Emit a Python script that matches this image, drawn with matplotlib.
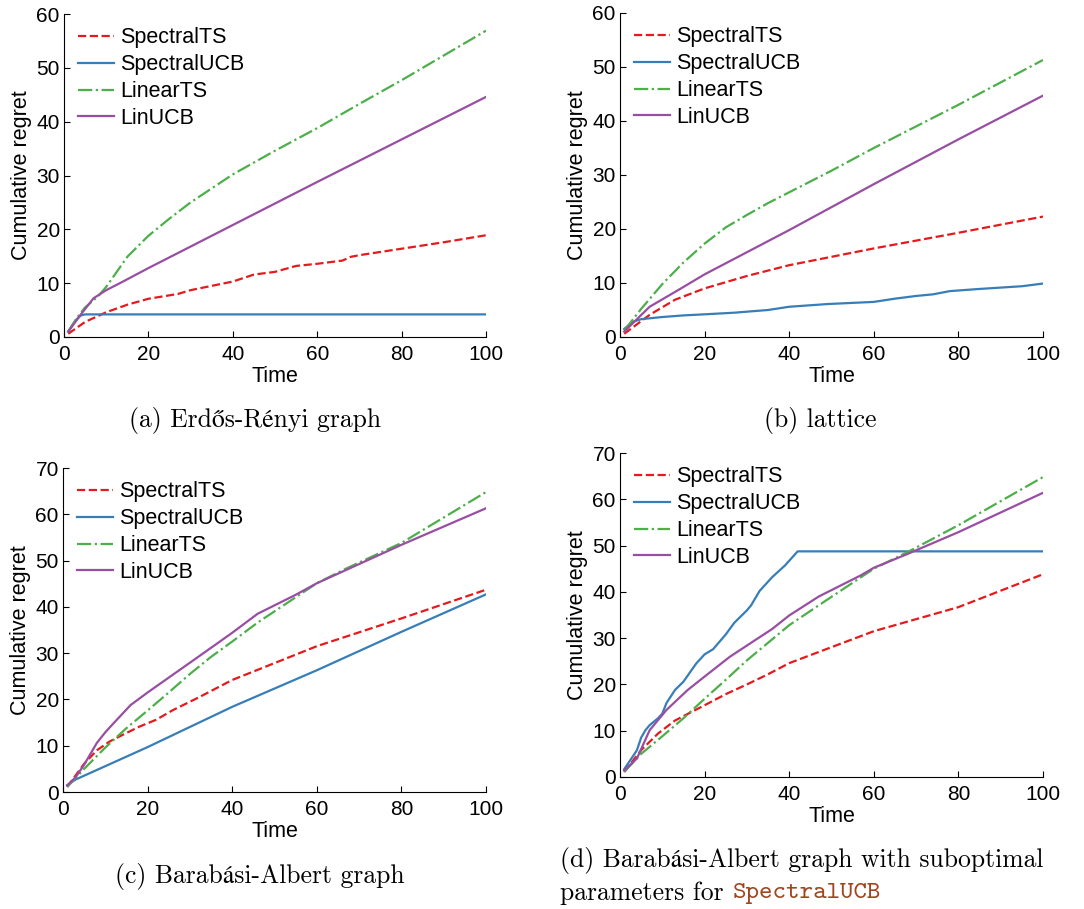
import matplotlib
matplotlib.use("Agg")
import matplotlib.pyplot as plt

# ---- data (time, cumulative regret) ----
# (a) Erdos-Renyi graph
a_ts_t = [1, 5, 10, 15, 20, 27, 30, 40, 45, 50, 55, 60, 66, 68, 70, 80, 90, 100]
a_ts_y = [0.6, 2.8, 4.6, 6.0, 7.1, 8.0, 8.7, 10.3, 11.6, 12.1, 13.2, 13.6, 14.2, 14.9, 15.2, 16.4, 17.6, 18.9]
a_ucb_t = [1, 2, 3, 4, 5, 100]
a_ucb_y = [1.0, 2.2, 3.3, 4.0, 4.2, 4.2]
a_lts_t = [1, 3, 5, 8, 10, 15, 20, 25, 30, 40, 50, 60, 70, 80, 90, 100]
a_lts_y = [1.0, 3.5, 5.5, 7.5, 9.3, 14.9, 18.8, 22.0, 25.0, 30.2, 34.6, 38.8, 43.3, 47.7, 52.3, 56.9]
a_lin_t = [1, 4, 7, 10, 13, 20, 40, 60, 80, 100]
a_lin_y = [1.0, 4.2, 7.2, 8.7, 9.9, 12.8, 20.8, 28.8, 36.7, 44.6]

# (b) lattice
b_ts_t = [1, 7, 13, 20, 30, 40, 60, 80, 100]
b_ts_y = [0.6, 4.1, 6.9, 9.0, 11.3, 13.3, 16.4, 19.3, 22.3]
b_ucb_t = [1, 3, 5, 10, 15, 20, 27, 35, 40, 49, 60, 65, 70, 74, 78, 85, 95, 100]
b_ucb_y = [1.5, 2.8, 3.3, 3.7, 4.0, 4.2, 4.5, 5.0, 5.6, 6.1, 6.5, 7.1, 7.6, 7.9, 8.5, 8.9, 9.4, 9.9]
b_lts_t = [1, 5, 10, 15, 20, 25, 30, 35, 40, 50, 60, 80, 100]
b_lts_y = [1.2, 5.2, 9.8, 13.8, 17.3, 20.3, 22.6, 24.8, 26.8, 30.8, 35.0, 43.0, 51.3]
b_lin_t = [1, 7, 14, 20, 30, 40, 60, 80, 100]
b_lin_y = [1.0, 5.6, 8.8, 11.6, 15.7, 19.8, 28.3, 36.6, 44.7]

# (c) Barabasi-Albert graph
c_ts_t = [1, 5, 8, 11, 14, 18, 22, 26, 32, 40, 60, 80, 100]
c_ts_y = [1.1, 6.1, 9.0, 10.9, 12.3, 14.1, 15.6, 17.7, 20.4, 24.2, 31.5, 37.5, 43.7]
c_ucb_t = [1, 3, 20, 40, 60, 80, 100]
c_ucb_y = [1.5, 2.7, 9.7, 18.4, 26.3, 34.6, 42.7]
c_lts_t = [1, 5, 10, 15, 20, 25, 30, 35, 40, 46, 60, 67, 80, 100]
c_lts_y = [1.1, 5.0, 9.6, 13.8, 17.6, 21.5, 25.5, 29.2, 32.5, 36.6, 45.1, 48.3, 53.8, 64.8]
c_lin_t = [1, 3, 5, 8, 10, 12, 16, 20, 27, 36, 40, 46, 55, 60, 67, 80, 100]
c_lin_y = [1.4, 3.2, 5.9, 10.6, 12.9, 14.9, 18.8, 21.5, 26.0, 31.8, 34.4, 38.5, 42.6, 45.1, 48.0, 53.4, 61.3]

# (d) Barabasi-Albert graph, suboptimal parameters for SpectralUCB
d_ts_t = [1, 5, 9, 13, 17, 20, 25, 30, 35, 40, 60, 80, 100]
d_ts_y = [1.1, 5.8, 9.4, 12.2, 14.1, 15.5, 17.9, 20.0, 22.2, 24.6, 31.5, 36.7, 43.8]
d_ucb_t = [1, 3, 4, 5, 6, 7, 9, 10, 11, 13, 15, 18, 20, 22, 25, 27, 30, 31, 33, 36, 39, 42, 100]
d_ucb_y = [1.7, 4.4, 5.8, 8.5, 10.1, 11.2, 12.7, 13.7, 16.0, 18.8, 20.6, 24.5, 26.5, 27.6,
           30.8, 33.3, 36.0, 37.1, 40.2, 43.2, 45.7, 48.75, 48.75]
d_lts_t = [1, 5, 10, 15, 20, 25, 30, 40, 47, 60, 68, 80, 100]
d_lts_y = [1.1, 5.0, 8.8, 12.7, 16.9, 21.0, 25.2, 32.8, 37.1, 45.0, 48.6, 54.4, 64.8]
d_lin_t = [1, 4, 7, 11, 16, 20, 26, 30, 36, 40, 47, 57, 60, 68, 80, 100]
d_lin_y = [1.4, 4.0, 10.1, 14.5, 18.8, 21.7, 26.0, 28.4, 32.0, 34.9, 39.0, 43.6, 45.2, 48.2, 52.9, 61.4]

names = ["SpectralTS", "SpectralUCB", "LinearTS", "LinUCB"]
colors = ["#E41A1C", "#377EB8", "#4DAF4A", "#984EA3"]
styles = ["--", "-", "-.", "-"]

panels = [
    ([(a_ts_t, a_ts_y), (a_ucb_t, a_ucb_y), (a_lts_t, a_lts_y), (a_lin_t, a_lin_y)], 60, (64, 14, 486, 337)),
    ([(b_ts_t, b_ts_y), (b_ucb_t, b_ucb_y), (b_lts_t, b_lts_y), (b_lin_t, b_lin_y)], 60, (620, 13, 1043, 337)),
    ([(c_ts_t, c_ts_y), (c_ucb_t, c_ucb_y), (c_lts_t, c_lts_y), (c_lin_t, c_lin_y)], 70, (63, 468, 486, 792)),
    ([(d_ts_t, d_ts_y), (d_ucb_t, d_ucb_y), (d_lts_t, d_lts_y), (d_lin_t, d_lin_y)], 70, (620, 453, 1043, 777)),
]

W, H = 1084, 909
fig = plt.figure(figsize=(W / 100, H / 100), dpi=100)
plt.rcParams['font.family'] = ['Liberation Sans', 'DejaVu Sans']

for series, ymax, (x0, y0, x1, y1) in panels:
    ax = fig.add_axes([x0 / W, 1 - y1 / H, (x1 - x0) / W, (y1 - y0) / H])
    for (t, y), name, c, ls in zip(series, names, colors, styles):
        ax.plot(t, y, ls, color=c, lw=1.6, label=name)
    ax.set_xlim(0, 100)
    ax.set_ylim(0, ymax)
    ax.set_xticks(range(0, 101, 20))
    ax.set_yticks(range(0, ymax + 1, 10))
    for s in ["top", "right"]:
        ax.spines[s].set_visible(False)
    for s in ["left", "bottom"]:
        ax.spines[s].set_linewidth(0.8)
    ax.tick_params(direction="in", length=4, width=0.8, labelsize=15)
    ax.tick_params(axis="x", pad=6)
    ax.tick_params(axis="y", pad=3)
    ax.set_xlabel("Time", fontsize=15.5, labelpad=1)
    ax.set_ylabel("Cumulative regret", fontsize=15.5, labelpad=3)
    ax.legend(loc="upper left", frameon=False, fontsize=15.5, handlelength=1.67,
              handletextpad=0.28, labelspacing=0.27, borderaxespad=0.0,
              bbox_to_anchor=(0.013, 0.985))

# captions
cap = dict(family=["cmr10", "STIXGeneral", "DejaVu Serif"], fontsize=18.5, va="center")
fig.text(255 / W, 1 - 421 / H, "(a) Erdős-Rényi graph", ha="center", **cap)
fig.text(820 / W, 1 - 421 / H, "(b) lattice", ha="center", **cap)
fig.text(260 / W, 1 - 876 / H, "(c) Barabási-Albert graph", ha="center", **cap)
fig.text(560 / W, 1 - 860 / H, "(d) Barabási-Albert graph with suboptimal", ha="left", **cap)
t2 = fig.text(560 / W, 1 - 893 / H, "parameters for ", ha="left", **cap)
fig.canvas.draw()
bb = t2.get_window_extent()
fig.text(bb.x1 / W, 1 - 893 / H, "SpectralUCB", ha="left", va="center",
         family=["cmtt10", "DejaVu Sans Mono"], fontsize=18.5, color="#A0461E")

fig.savefig("out.png", dpi=100)
